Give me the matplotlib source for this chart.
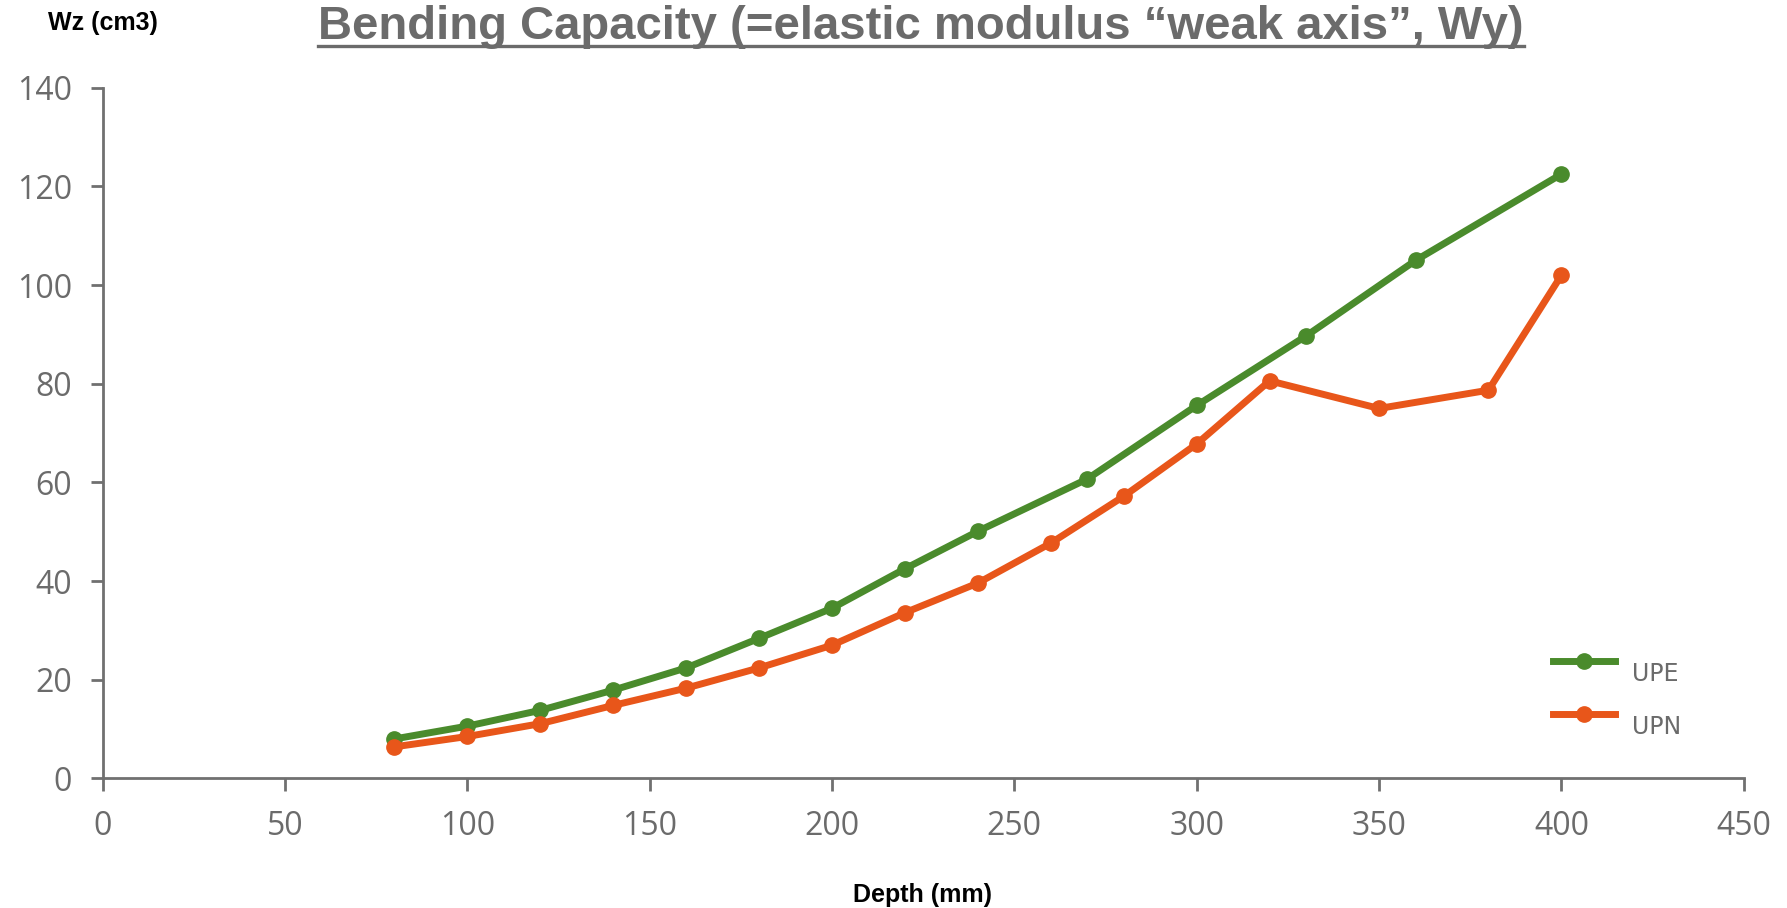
import matplotlib
matplotlib.use("Agg")
import matplotlib.pyplot as plt
from matplotlib.lines import Line2D

# --- data (Wz, cm3) ---
upe_depth = [80, 100, 120, 140, 160, 180, 200, 220, 240, 270, 300, 330, 360, 400]
upe_wz = [8.0, 10.6, 13.8, 17.9, 22.4, 28.4, 34.5, 42.5, 50.1, 60.7, 75.6, 89.7, 105.0, 122.5]

upn_depth = [80, 100, 120, 140, 160, 180, 200, 220, 240, 260, 280, 300, 320, 350, 380, 400]
upn_wz = [6.4, 8.5, 11.1, 14.8, 18.3, 22.4, 27.0, 33.6, 39.6, 47.7, 57.2, 67.8, 80.6, 75.0, 78.7, 102.0]

x_ticks = [0, 50, 100, 150, 200, 250, 300, 350, 400, 450]
y_ticks = [0, 20, 40, 60, 80, 100, 120, 140]

green = '#4a8b2c'
orange = '#e8561a'
grey = '#6b6b6b'
narrow = ['Liberation Sans Narrow', 'Liberation Sans', 'DejaVu Sans']

fig = plt.figure(figsize=(17.87, 9.08), dpi=100)
ax = fig.add_axes([0.0574, 0.1427, 0.9184, 0.7606])

ax.plot(upe_depth, upe_wz, color=green, lw=5, marker='o', ms=11, label='UPE')
ax.plot(upn_depth, upn_wz, color=orange, lw=5, marker='o', ms=11, label='UPN')

ax.set_xlim(0, 450)
ax.set_ylim(0, 140)
ax.set_xticks(x_ticks)
ax.set_yticks(y_ticks)

for s in ['top', 'right']:
    ax.spines[s].set_visible(False)
for s in ['left', 'bottom']:
    ax.spines[s].set_color('#707070')
    ax.spines[s].set_linewidth(2)

ax.tick_params(axis='both', direction='out', length=9, width=2, color='#707070',
               labelcolor=grey, labelsize=23)
ax.tick_params(axis='x', pad=14)
ax.tick_params(axis='y', pad=13)
for lab in ax.get_xticklabels() + ax.get_yticklabels():
    lab.set_family(['Open Sans', 'DejaVu Sans'])

leg = ax.legend(loc='lower right', bbox_to_anchor=(0.975, 0.044), frameon=False,
                fontsize=17, handlelength=2.6, labelspacing=1.22, handletextpad=0.75)
for t in leg.get_texts():
    t.set_color(grey)
    t.set_position((0, -12))

title = fig.text(0.5155, 0.970, u'Bending Capacity (=elastic modulus \u201cweak axis\u201d, Wy)',
                 ha='center', va='center', fontsize=34, fontweight='bold',
                 color=grey, family=narrow)
fig.text(0.0574, 0.975, 'Wz (cm3)', ha='center', va='center', fontsize=18,
         fontweight='bold', color='black', family=narrow)
fig.text(0.5165, 0.014, 'Depth (mm)', ha='center', va='center', fontsize=18,
         fontweight='bold', color='black', family=narrow)

# underline the title
fig.canvas.draw()
bb = title.get_window_extent().transformed(fig.transFigure.inverted())
uy = bb.y0 + 0.004
fig.add_artist(Line2D([bb.x0, bb.x1], [uy, uy], transform=fig.transFigure,
                      color=grey, lw=2.4))

fig.savefig('out.png', dpi=100)
